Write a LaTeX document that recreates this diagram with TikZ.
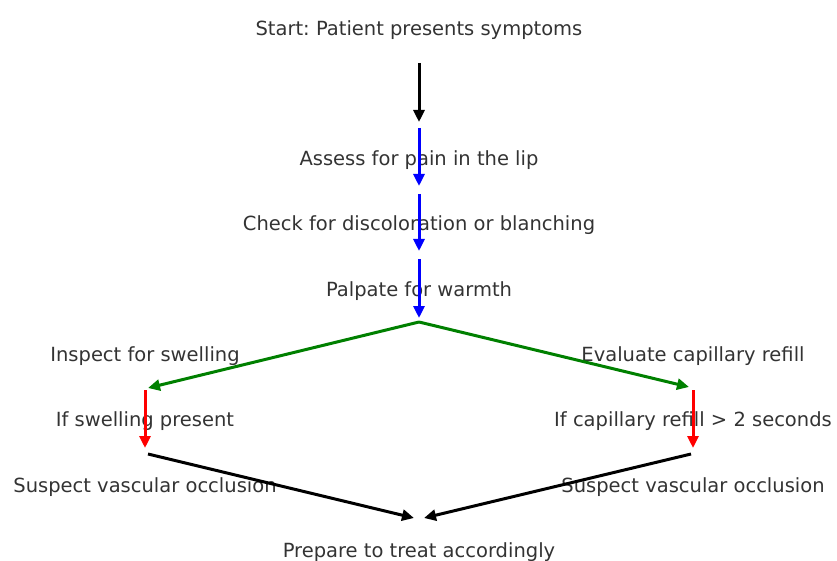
\documentclass[tikz,border=0pt]{standalone}
\usepackage{fontspec}
\setmainfont{DejaVu Sans}
\usepackage{xcolor}
\usepackage{tikz}
\usetikzlibrary{arrows.meta}
\definecolor{txtgray}{HTML}{333333}
\newcommand{\midx}{419}
\newcommand{\leftx}{145}
\newcommand{\rightx}{693}
\frenchspacing

\begin{document}
\begin{tikzpicture}[x=1pt, y=-1pt,
  txt/.style={text=txtgray, font=\fontsize{19.5}{23}\selectfont, inner sep=0pt},
  flow/.style={line width=3pt, -{Triangle[length=12pt, width=11pt]}}]

\useasboundingbox (0,0) rectangle (837,561);

% Steps down the middle
\node[txt] (start) at (\midx,30) {Start: Patient presents symptoms};
\node[txt] (assess) at (\midx,160) {Assess for pain in the lip};
\node[txt] (check) at (\midx,225) {Check for discoloration or blanching};
\node[txt] (palpate) at (\midx,291) {Palpate for warmth};

% Left branch
\node[txt] (inspect) at (\leftx,356) {Inspect for swelling};
\node[txt] (ifswell) at (\leftx,421) {If swelling present};
\node[txt] (suspect-L) at (\leftx,487) {Suspect vascular occlusion};

% Right branch
\node[txt] (evaluate) at (\rightx,356) {Evaluate capillary refill};
\node[txt] (ifrefill) at (\rightx,421) {If capillary refill > 2 seconds};
\node[txt] (suspect-R) at (\rightx,487) {Suspect vascular occlusion};

% End
\node[txt] (prepare) at (\midx,552) {Prepare to treat accordingly};

% Start arrow
\coordinate (start-top) at (\midx,63);
\coordinate (start-bot) at (\midx,122);
\draw[flow, black] (start-top) -- (start-bot);

% Blue arrows
\foreach \i/\ya/\yb in {1/128/186, 2/194/251, 3/259/318}
{
  \coordinate (blue-top-\i) at (\midx,\ya);
  \coordinate (blue-bot-\i) at (\midx,\yb);
  \draw[flow, blue] (blue-top-\i) -- (blue-bot-\i);
}

% Split
\coordinate (split) at (\midx,322);
\coordinate (split-L) at (148,388);
\coordinate (split-R) at (689,387);
\draw[flow, green!50!black] (split) -- (split-L);
\draw[flow, green!50!black] (split) -- (split-R);

% Red arrows
\foreach \s/\x in {L/\leftx, R/\rightx}
{
  \coordinate (red-top-\s) at (\x,390);
  \coordinate (red-bot-\s) at (\x,448);
  \draw[flow, red] (red-top-\s) -- (red-bot-\s);
}

% Join
\coordinate (join-L) at (148,454);
\coordinate (join-R) at (691,454);
\coordinate (end-L) at (414,518);
\coordinate (end-R) at (424,518);
\draw[flow, black] (join-L) -- (end-L);
\draw[flow, black] (join-R) -- (end-R);

\end{tikzpicture}
\end{document}
